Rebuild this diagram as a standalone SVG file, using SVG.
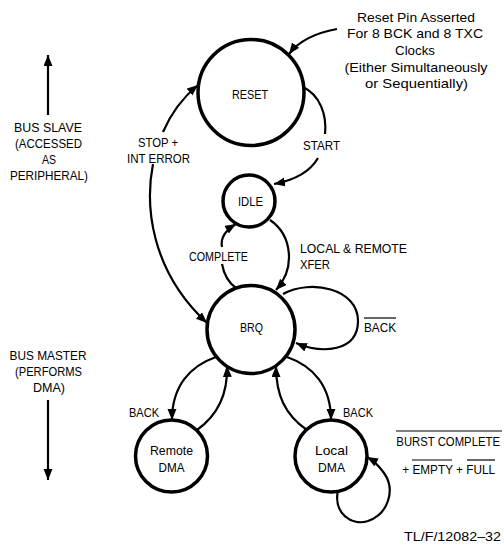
<svg xmlns="http://www.w3.org/2000/svg" width="504" height="545" viewBox="0 0 504 545">
<style>
  .node circle { fill: #fff; stroke: #000; stroke-width: 3.5; }
  .lbl { font-family: "Liberation Sans", Arial, sans-serif; font-size: 13.5px; fill: #000; text-anchor: middle; }
  .st { text-anchor: start; }
  .en { text-anchor: end; }
  .edge { fill: none; stroke: #000; stroke-width: 2.2; }
  .ov { stroke: #000; stroke-width: 1.2; }
</style>
<defs>
  <marker id="ah" markerUnits="userSpaceOnUse" markerWidth="12" markerHeight="10" refX="11" refY="4.5" orient="auto">
    <path d="M0,0 L11,4.5 L0,9 z" fill="#000"/>
  </marker>
</defs>
<rect width="504" height="545" fill="#fff"/>

<g id="side-labels">
  <path class="edge" d="M48,115 V55" stroke-width="2.5" marker-end="url(#ah)"/>
  <text class="lbl" x="48" y="132" textLength="68" lengthAdjust="spacingAndGlyphs">BUS SLAVE</text>
  <text class="lbl" x="48.5" y="148" textLength="67" lengthAdjust="spacingAndGlyphs">(ACCESSED</text>
  <text class="lbl" x="49" y="164" textLength="14" lengthAdjust="spacingAndGlyphs">AS</text>
  <text class="lbl" x="49" y="180" textLength="78" lengthAdjust="spacingAndGlyphs">PERIPHERAL)</text>
  <text class="lbl" x="48" y="360" textLength="77" lengthAdjust="spacingAndGlyphs">BUS MASTER</text>
  <text class="lbl" x="48.5" y="376" textLength="67" lengthAdjust="spacingAndGlyphs">(PERFORMS</text>
  <text class="lbl" x="49" y="392" textLength="32" lengthAdjust="spacingAndGlyphs">DMA)</text>
  <path class="edge" d="M48,400 V480" stroke-width="2.5" marker-end="url(#ah)"/>
</g>

<g id="connectors">
  <path class="edge" d="M337,29 C315,33 298,42 289,54" marker-end="url(#ah)"/>
  <path class="edge" d="M163,132 Q175,104 198,85" marker-end="url(#ah)"/>
  <path class="edge" d="M153,164 C145,205 150,270 207,323" marker-end="url(#ah)"/>
  <path class="edge" d="M303,87 C320,95 327,115 325,134"/>
  <path class="edge" d="M318,158 C310,172 295,180 274,184" marker-end="url(#ah)"/>
  <path class="edge" d="M270,220 C292,235 296,268 276,290" marker-end="url(#ah)"/>
  <path class="edge" d="M222,247 C220,237 226,230 236,224" marker-end="url(#ah)"/>
  <path class="edge" d="M222,264 C224,275 229,283 236,288"/>
  <path class="edge" d="M283,294 C310,279 358,288 358,321 C358,352 322,354 296,343" marker-end="url(#ah)"/>
  <path class="edge" d="M216,357 C190,366 172,386 172,420" marker-end="url(#ah)"/>
  <path class="edge" d="M197,430 C218,415 228,395 227,366" marker-end="url(#ah)"/>
  <path class="edge" d="M307,430 C285,415 276,395 276,366" marker-end="url(#ah)"/>
  <path class="edge" d="M287,357 C313,366 331,386 331,420" marker-end="url(#ah)"/>
  <path class="edge" d="M338,490 C333,514 352,526 368,521 C388,514 396,490 384,473 C379,466 374,461 367,457" marker-end="url(#ah)"/>
</g>

<g id="edge-labels">
  <text class="lbl" x="416" y="21.5" textLength="118" lengthAdjust="spacingAndGlyphs">Reset Pin Asserted</text>
  <text class="lbl" x="415" y="38" textLength="136" lengthAdjust="spacingAndGlyphs">For 8 BCK and 8 TXC</text>
  <text class="lbl" x="415" y="55" textLength="40" lengthAdjust="spacingAndGlyphs">Clocks</text>
  <text class="lbl" x="416" y="71.5" textLength="143" lengthAdjust="spacingAndGlyphs">(Either Simultaneously</text>
  <text class="lbl" x="416.5" y="87.5" textLength="103" lengthAdjust="spacingAndGlyphs">or Sequentially)</text>
  <text class="lbl" x="158" y="147" textLength="40" lengthAdjust="spacingAndGlyphs">STOP +</text>
  <text class="lbl" x="158.5" y="163" textLength="63" lengthAdjust="spacingAndGlyphs">INT ERROR</text>
  <text class="lbl" x="321.5" y="150" textLength="37" lengthAdjust="spacingAndGlyphs">START</text>
  <text class="lbl" x="218.5" y="261" textLength="59" lengthAdjust="spacingAndGlyphs">COMPLETE</text>
  <text class="lbl st" x="300" y="253" textLength="107" lengthAdjust="spacingAndGlyphs">LOCAL &amp; REMOTE</text>
  <text class="lbl st" x="300" y="269" textLength="30" lengthAdjust="spacingAndGlyphs">XFER</text>
  <text class="lbl st" x="364" y="332" textLength="32" lengthAdjust="spacingAndGlyphs">BACK</text>
  <line class="ov" x1="364" y1="318" x2="396" y2="318"/>
  <text class="lbl" x="144" y="417" textLength="30" lengthAdjust="spacingAndGlyphs">BACK</text>
  <text class="lbl" x="358" y="417" textLength="30" lengthAdjust="spacingAndGlyphs">BACK</text>
  <text class="lbl en" x="0" y="0" transform="translate(500,446) scale(0.84,1)">BURST COMPLETE</text>
  <line class="ov" x1="396" y1="431" x2="502" y2="431"/>
  <text class="lbl en" x="0" y="0" transform="translate(495,474) scale(0.873,1)">+ EMPTY + FULL</text>
  <line class="ov" x1="412" y1="460" x2="452" y2="460"/>
  <line class="ov" x1="467" y1="460" x2="495" y2="460"/>
  <text class="lbl en" x="501" y="541" textLength="97" lengthAdjust="spacingAndGlyphs">TL/F/12082–32</text>
</g>

<g id="node-reset" class="node">
  <circle cx="251" cy="92.5" r="53"/>
  <text class="lbl" x="250" y="99" textLength="36" lengthAdjust="spacingAndGlyphs">RESET</text>
</g>
<g id="node-idle" class="node">
  <circle cx="249" cy="201" r="26"/>
  <text class="lbl" x="250.5" y="206" textLength="25" lengthAdjust="spacingAndGlyphs">IDLE</text>
</g>
<g id="node-brq" class="node">
  <circle cx="251" cy="329.5" r="44"/>
  <text class="lbl" x="251.5" y="332" textLength="23" lengthAdjust="spacingAndGlyphs">BRQ</text>
</g>
<g id="node-remote" class="node">
  <circle cx="171.5" cy="456" r="36"/>
  <text class="lbl" x="171.5" y="455" textLength="43" lengthAdjust="spacingAndGlyphs">Remote</text>
  <text class="lbl" x="171.5" y="472" textLength="26" lengthAdjust="spacingAndGlyphs">DMA</text>
</g>
<g id="node-local" class="node">
  <circle cx="331" cy="456" r="36"/>
  <text class="lbl" x="331.5" y="455" textLength="33" lengthAdjust="spacingAndGlyphs">Local</text>
  <text class="lbl" x="331.5" y="472" textLength="27" lengthAdjust="spacingAndGlyphs">DMA</text>
</g>
</svg>
